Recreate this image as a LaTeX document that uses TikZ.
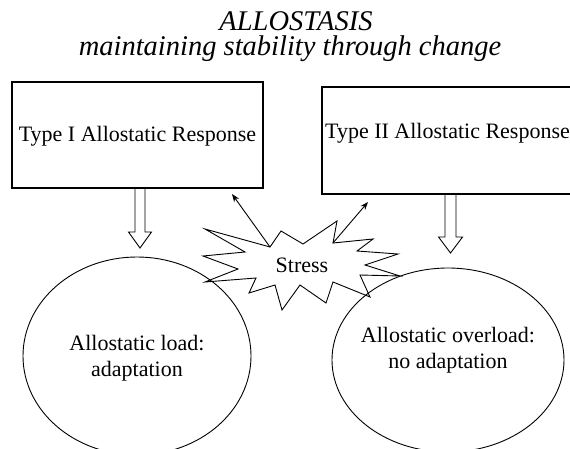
\documentclass[tikz,border=0pt]{standalone}
\usepackage{fontspec}
\setmainfont{Liberation Serif}
\usetikzlibrary{arrows.meta,shapes.geometric,calc}
\begin{document}
\begin{tikzpicture}[x=1pt,y=-1pt,
  box/.style={draw,line width=1.1pt,inner sep=0pt},
  body/.style={font=\fontsize{22}{26}\selectfont,align=center,inner sep=0pt},
  oval/.style={draw,ellipse,line width=0.9pt,inner sep=0pt},
  titletext/.style={font=\fontsize{28.5}{25}\selectfont\itshape,inner sep=0pt,align=center},
  thinline/.style={line width=0.9pt},
  hollow/.style={draw,line width=0.9pt,line join=miter},
  stressarrow/.style={line width=0.9pt,-{Stealth[length=8pt,width=6pt]}}
]
\useasboundingbox (0,0) rectangle (570,449);
% title
\node[titletext] (t1) at (290,37) {\hspace*{12pt}ALLOSTASIS\\maintaining stability through change};
% boxes
\node[box,minimum width=251pt,minimum height=106pt] (b1) at (137.5,135) {};
\node[body] (b1t) at (137.5,136) {Type I Allostatic Response};
\node[box,minimum width=250pt,minimum height=107pt] (b2) at (447,140.5) {};
\node[body] (b2t) at (447.5,133) {Type II Allostatic Response};
% ellipses
\node[oval,minimum width=228pt,minimum height=198pt] (e1) at (137,356) {};
\node[body] (e1t) at (137,358) {Allostatic load:\\adaptation};
\node[oval,minimum width=232pt,minimum height=184pt] (e2) at (448,360) {};
\node[body] (e2t) at (448,350) {Allostatic overload:\\no adaptation};
% hollow block arrows
\coordinate (a1) at (140,188);
\draw[hollow] (a1) ++(-5,0) -- ++(0,44) -- ++(-6.5,0) -- ++(11.5,16) -- ++(11.5,-16) -- ++(-6.5,0) -- ++(0,-44);
\coordinate (a2) at (450.5,194);
\draw[hollow] (a2) ++(-5.5,0) -- ++(0,43) -- ++(-6.5,0) -- ++(12,16) -- ++(12,-16) -- ++(-6.5,0) -- ++(0,-43);
% stress burst
\draw[thinline] (270,247) -- (281,231) -- (303,244) -- (337,221) -- (333,243) -- (373,239) -- (357,251) -- (398,254) -- (365,265) -- (400,276) -- (360,275) -- (370,297) -- (333,282) -- (326,303) -- (300,285) -- (282,310) -- (275,285) -- (249,293) -- (256,278) -- (205,282) -- (238,269) -- (203,256) -- (245,252) -- (205,229) -- cycle;
\node[body] (st) at (302,265) {Stress};
\coordinate (s1) at (270,247);
\coordinate (s2) at (333,243);
\coordinate (p1) at (232,194);
\coordinate (p2) at (368,202);
\draw[stressarrow] (s1) -- (p1);
\draw[stressarrow] (s2) -- (p2);
\end{tikzpicture}
\end{document}
